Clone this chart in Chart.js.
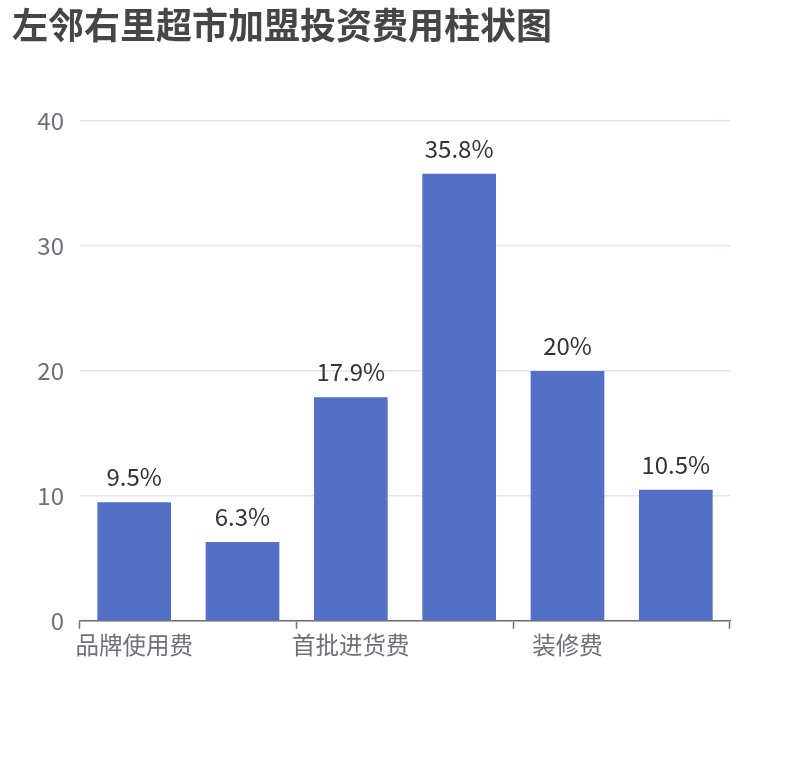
<!DOCTYPE html>
<html>
<head>
<meta charset="utf-8">
<script src="https://cdn.jsdelivr.net/npm/chart.js@4"></script>
<style>
  html, body { margin: 0; padding: 0; background: #fff; }
  #wrap { width: 810px; height: 760px; position: relative; }
</style>
</head>
<body>
<div id="wrap"><canvas id="bar-chart"></canvas></div>
<script>
// chart data
const categories = ['品牌使用费', '加盟保证金', '首批进货费', '设备购置费', '装修费', '其他费用'];
const shares = [9.5, 6.3, 17.9, 35.8, 20, 10.5];
const yTicks = [0, 10, 20, 30, 40];

const FONT = '"Noto Sans CJK SC", "Noto Sans", sans-serif';

// value labels above each bar
const barLabels = {
  id: 'barLabels',
  afterDatasetsDraw(chart) {
    const ctx = chart.ctx;
    const meta = chart.getDatasetMeta(0);
    ctx.save();
    ctx.font = '24px ' + FONT;
    ctx.fillStyle = '#333';
    ctx.textAlign = 'center';
    ctx.textBaseline = 'bottom';
    meta.data.forEach((bar, i) => {
      ctx.fillText(shares[i] + '%', bar.x, bar.y - 13);
    });
    ctx.restore();
  }
};

new Chart(document.getElementById('bar-chart'), {
  type: 'bar',
  data: {
    labels: categories,
    datasets: [{
      data: shares,
      backgroundColor: '#5470C6',
      categoryPercentage: 1,
      barPercentage: 0.68
    }]
  },
  options: {
    responsive: true,
    maintainAspectRatio: false,
    animation: false,
    layout: { padding: { left: 12, right: 80, top: 0, bottom: 99 } },
    plugins: {
      legend: { display: false },
      tooltip: { enabled: false },
      title: {
        display: true,
        text: '左邻右里超市加盟投资费用柱状图',
        align: 'start',
        color: '#464646',
        font: { family: FONT, size: 36, weight: 'bold' },
        padding: { top: 4, bottom: 74 }
      }
    },
    scales: {
      x: {
        offset: true,
        grid: {
          offset: true,
          drawOnChartArea: false,
          drawTicks: true,
          tickLength: 8,
          tickWidth: 1.5,
          // tick mark on every second category boundary, incl. the right edge
          tickColor: (c) => (c.index === undefined || c.index % 2 === 0 ? '#6E7079' : 'rgba(0,0,0,0)')
        },
        border: { color: '#6E7079', width: 1.5 },
        ticks: {
          autoSkip: false,
          maxRotation: 0,
          color: '#6E7079',
          padding: 2,
          font: { family: FONT, size: 23.5 },
          callback: (v, i) => (i % 2 === 0 ? categories[i] : '')
        }
      },
      y: {
        min: 0,
        max: 40,
        afterBuildTicks: (scale) => { scale.ticks = yTicks.map(v => ({ value: v })); },
        afterFit: (scale) => { scale.width = 68; },
        grid: { color: '#E0E6F1', lineWidth: 1.5, drawTicks: false },
        border: { display: false },
        ticks: {
          color: '#6E7079',
          padding: 16,
          font: { family: FONT, size: 24 }
        }
      }
    }
  },
  plugins: [barLabels]
});
</script>
</body>
</html>
